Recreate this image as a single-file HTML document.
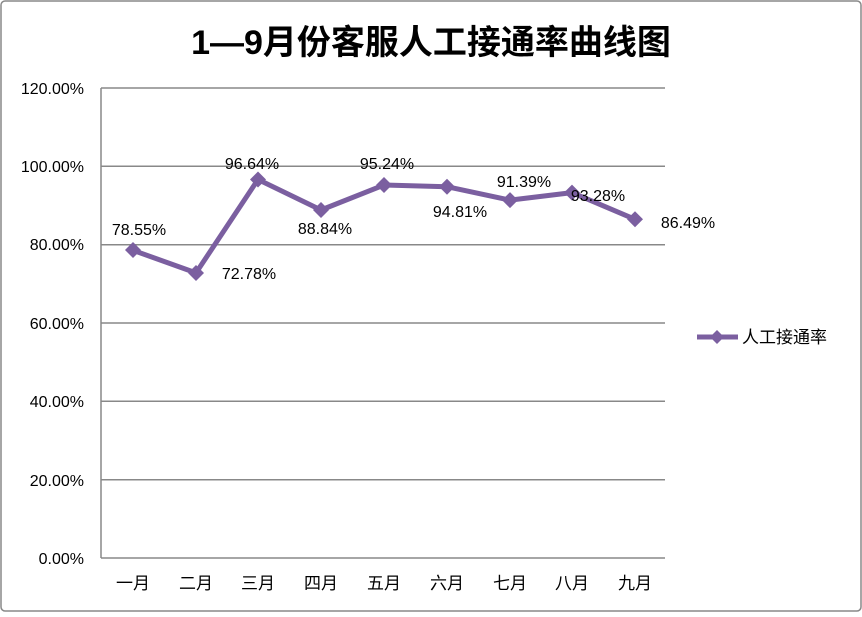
<!DOCTYPE html>
<html><head><meta charset="utf-8"><style>
body{margin:0;background:#fff}
</style></head><body>
<svg width="862" height="612" xmlns="http://www.w3.org/2000/svg" font-family="Liberation Sans, Noto Sans CJK SC, sans-serif">
<rect x="1" y="1" width="860" height="610" rx="4" fill="#fff" stroke="#888" stroke-width="1.5"/>
<text x="431" y="54" text-anchor="middle" font-size="34" font-weight="bold" fill="#000">1—9月份客服人工接通率曲线图</text>
<g stroke="#888" stroke-width="1.5">
<line x1="101" y1="88" x2="665" y2="88"/>
<line x1="101" y1="166.3" x2="665" y2="166.3"/>
<line x1="101" y1="244.7" x2="665" y2="244.7"/>
<line x1="101" y1="323" x2="665" y2="323"/>
<line x1="101" y1="401.3" x2="665" y2="401.3"/>
<line x1="101" y1="479.7" x2="665" y2="479.7"/>
<line x1="101" y1="558" x2="665" y2="558"/>
<line x1="101" y1="88" x2="101" y2="558"/>
</g>
<g font-size="16" text-anchor="end" fill="#000">
<text x="84" y="94">120.00%</text>
<text x="84" y="172">100.00%</text>
<text x="84" y="250">80.00%</text>
<text x="84" y="329">60.00%</text>
<text x="84" y="407">40.00%</text>
<text x="84" y="486">20.00%</text>
<text x="84" y="564">0.00%</text>
</g>
<g font-size="17" text-anchor="middle" fill="#000">
<text x="133" y="589">一月</text><text x="196" y="589">二月</text><text x="258" y="589">三月</text>
<text x="321" y="589">四月</text><text x="384" y="589">五月</text><text x="447" y="589">六月</text>
<text x="510" y="589">七月</text><text x="572" y="589">八月</text><text x="635" y="589">九月</text>
</g>
<polyline fill="none" stroke="#7b5fa0" stroke-width="5" stroke-linejoin="round" points="133,250.3 196,272.9 258,179.5 321,210 384,185 447,186.7 510,200.1 572,192.6 635,219.3"/>
<g fill="#7b5fa0">
<path d="M133,242 l8,8 l-8,8 l-8,-8z"/><path d="M196,265 l8,8 l-8,8 l-8,-8z"/>
<path d="M258,171.5 l8,8 l-8,8 l-8,-8z"/><path d="M321,202 l8,8 l-8,8 l-8,-8z"/>
<path d="M384,177 l8,8 l-8,8 l-8,-8z"/><path d="M447,178.7 l8,8 l-8,8 l-8,-8z"/>
<path d="M510,192.1 l8,8 l-8,8 l-8,-8z"/><path d="M572,184.6 l8,8 l-8,8 l-8,-8z"/>
<path d="M635,211.3 l8,8 l-8,8 l-8,-8z"/>
</g>
<g font-size="16" text-anchor="middle" fill="#000">
<text x="139" y="235">78.55%</text><text x="249" y="279">72.78%</text>
<text x="252" y="169">96.64%</text><text x="325" y="234">88.84%</text>
<text x="387" y="169">95.24%</text><text x="460" y="217">94.81%</text>
<text x="524" y="187">91.39%</text><text x="598" y="201">93.28%</text>
<text x="688" y="228">86.49%</text>
</g>
<line x1="697" y1="337" x2="738" y2="337" stroke="#7b5fa0" stroke-width="5"/>
<path d="M717,330 l7,7 l-7,7 l-7,-7z" fill="#7b5fa0"/>
<text x="742" y="343" font-size="17" fill="#000">人工接通率</text>
</svg>
</body></html>
